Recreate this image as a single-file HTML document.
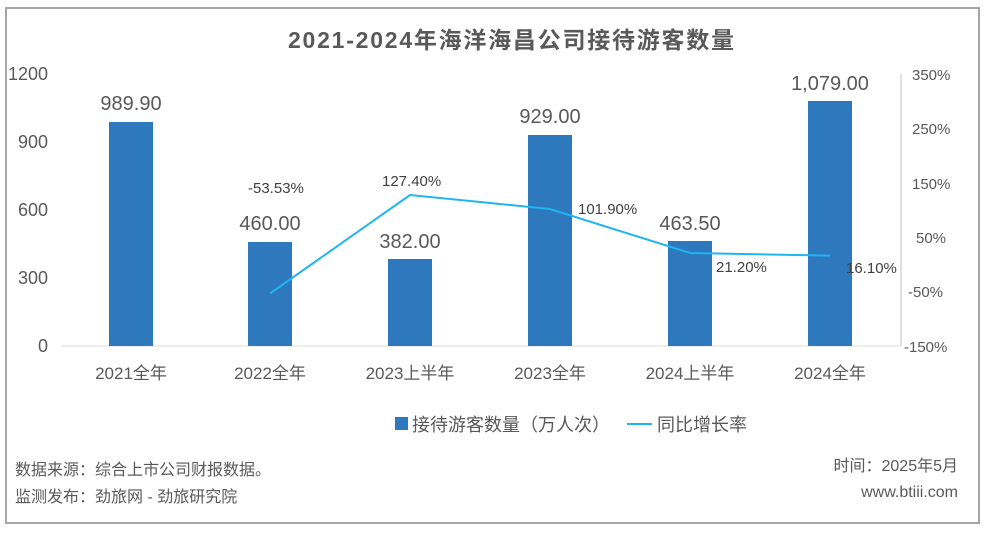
<!DOCTYPE html>
<html><head><meta charset="utf-8"><style>
body{margin:0;background:#fff;}
svg text{font-family:"Liberation Sans","Noto Sans CJK SC",sans-serif;}
</style></head><body>
<svg width="984" height="531" xmlns="http://www.w3.org/2000/svg">
<rect x="6" y="8" width="973" height="515" fill="#fff" stroke="#a6a6a6" stroke-width="2"/>
<text x="511" y="48" text-anchor="middle" font-size="23" font-weight="bold" fill="#595959" textLength="446">2021-2024年海洋海昌公司接待游客数量</text>
<g font-size="18" fill="#595959" text-anchor="end">
<text x="48" y="80">1200</text><text x="48" y="148">900</text><text x="48" y="216">600</text><text x="48" y="284">300</text><text x="48" y="352">0</text>
</g>
<line x1="901" y1="74" x2="901" y2="346" stroke="#bfbfbf"/>
<line x1="62" y1="346" x2="901" y2="346" stroke="#d9d9d9"/>
<g font-size="15" fill="#595959">
<text x="912" y="80">350%</text><text x="912" y="134">250%</text><text x="912" y="189">150%</text><text x="916" y="243">50%</text><text x="908" y="297">-50%</text><text x="904" y="352">-150%</text>
</g>
<g fill="#2e78bd">
<rect x="109" y="122" width="44" height="224"/>
<rect x="248" y="242" width="44" height="104"/>
<rect x="388" y="259" width="44" height="87"/>
<rect x="528" y="135" width="44" height="211"/>
<rect x="668" y="241" width="44" height="105"/>
<rect x="808" y="101" width="44" height="245"/>
</g>
<g font-size="20" fill="#595959" text-anchor="middle">
<text x="131" y="110">989.90</text><text x="270" y="230">460.00</text><text x="410" y="248">382.00</text><text x="550" y="123">929.00</text><text x="690" y="230">463.50</text><text x="830" y="90">1,079.00</text>
</g>
<polyline points="270,293.5 410,195 550,209 690,253 830,255.6" fill="none" stroke="#1fb5ef" stroke-width="2"/>
<g font-size="15" fill="#404040">
<text x="248" y="193">-53.53%</text><text x="382" y="186">127.40%</text><text x="578" y="214">101.90%</text><text x="716" y="272">21.20%</text><text x="846" y="273">16.10%</text>
</g>
<g font-size="17" fill="#595959" text-anchor="middle">
<text x="131" y="379">2021全年</text><text x="270" y="379">2022全年</text><text x="410" y="379">2023上半年</text><text x="550" y="379">2023全年</text><text x="690" y="379">2024上半年</text><text x="830" y="379">2024全年</text>
</g>
<rect x="395" y="417" width="13" height="13" fill="#2e78bd"/>
<text x="412" y="431" font-size="18" fill="#595959">接待游客数量（万人次）</text>
<line x1="627" y1="424" x2="652" y2="424" stroke="#1fb5ef" stroke-width="2"/>
<text x="657" y="431" font-size="18" fill="#595959">同比增长率</text>
<g font-size="16" fill="#595959">
<text x="15" y="475">数据来源：综合上市公司财报数据。</text>
<text x="15" y="502">监测发布：劲旅网 - 劲旅研究院</text>
<text x="958" y="471" text-anchor="end">时间：2025年5月</text>
<text x="958" y="497" text-anchor="end">www.btiii.com</text>
</g>
</svg>
</body></html>
